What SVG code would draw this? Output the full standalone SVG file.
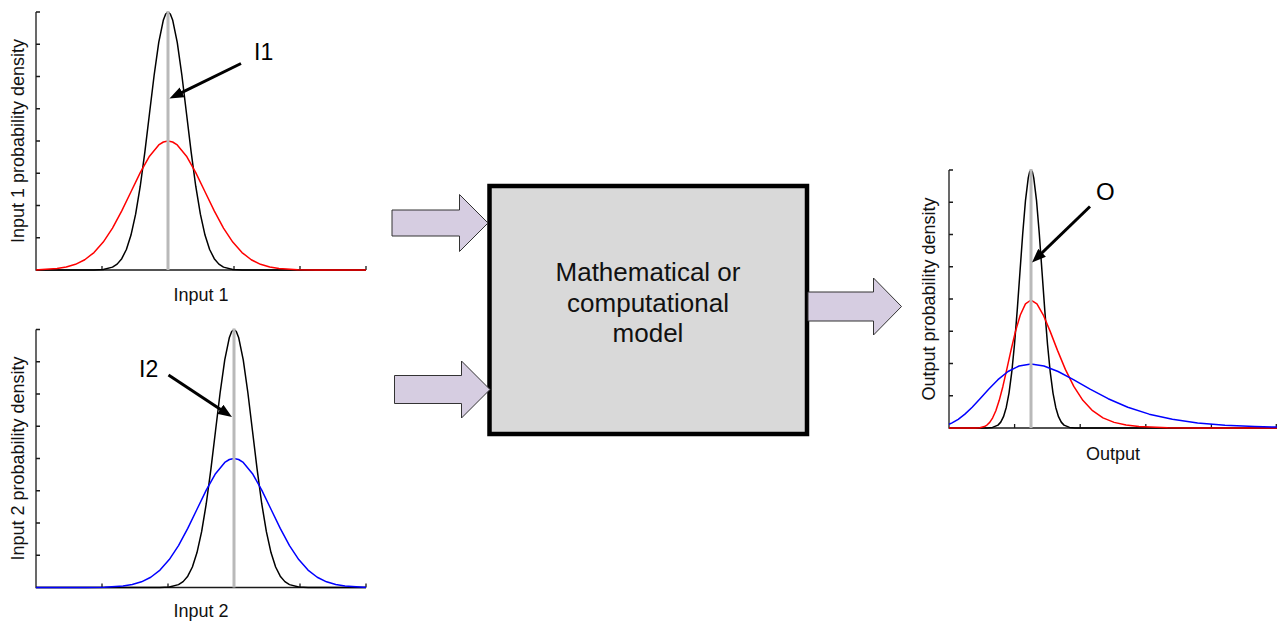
<svg xmlns="http://www.w3.org/2000/svg" width="1277" height="625" viewBox="0 0 1277 625">
<defs>
<style>
.ax{fill:none;stroke:#1a1a1a;stroke-width:1.3}
.cv{fill:none;stroke-width:1.5;stroke-linejoin:round}
.k{stroke:#000}
.r{stroke:#ff0000}
.b{stroke:#0000ff}
.mean{stroke:#b9b9b9;stroke-width:3}
.lbl{font-family:"Liberation Sans",Arial,Helvetica,sans-serif;font-size:18px;fill:#111}
.tag{font-family:"Liberation Sans",Arial,Helvetica,sans-serif;font-size:23px;fill:#000}
.boxtxt{font-family:"Liberation Sans",Arial,Helvetica,sans-serif;font-size:26px;fill:#111}
.ann{stroke:#000;stroke-width:3;fill:none}
.blk{fill:#d6cde1;stroke:#333;stroke-width:1}
</style>
<marker id="head" markerUnits="userSpaceOnUse" markerWidth="14" markerHeight="11" viewBox="0 0 14 11" refX="4" refY="5.5" orient="auto">
<path d="M0,0 L14,5.5 L0,11 z" fill="#000"/>
</marker>
</defs>
<rect width="1277" height="625" fill="#fff"/>

<!-- Input 1 plot -->
<g id="plot-input1">
<path class="ax" d="M36,12 V270 H366 M36,12 h4 M36,44.25 h4 M36,76.5 h4 M36,108.75 h4 M36,141 h4 M36,173.25 h4 M36,205.5 h4 M36,237.75 h4 M102,270 v-4 M168,270 v-4 M234,270 v-4 M300,270 v-4 M366,270 v-4"/>
<polyline class="cv k" points="36,270 94,270 103.25,269.43 112.5,267.13 117.13,264.12 121.75,258.66 126.38,249.47 131,235.08 135.63,214.2 140.25,186.24 144.88,151.88 149.5,113.52 154.13,75.25 158.75,42.31 163.38,19.94 165.69,14 168,12 170.31,14 172.63,19.94 177.25,42.31 181.88,75.25 186.5,113.52 191.13,151.88 195.75,186.24 200.38,214.2 205,235.08 209.63,249.47 214.25,258.66 218.88,264.12 223.5,267.13 232.75,269.43 242,270 366,270"/>
<polyline class="cv r" points="36,270 38.5,269.72 57,268.57 66.25,267.06 75.5,264.33 84.75,259.74 94,252.54 103.25,242.1 112.5,228.12 121.75,210.94 131,191.76 140.25,172.63 149.5,156.16 158.75,144.97 163.38,142 168,141 172.63,142 177.25,144.97 186.5,156.16 195.75,172.63 205,191.76 214.25,210.94 223.5,228.12 232.75,242.1 242,252.54 251.25,259.74 260.5,264.33 269.75,267.06 279,268.57 297.5,269.72 316,270 366,270"/>
<line class="mean" x1="168" y1="11" x2="168" y2="270"/>
<text class="lbl" x="201" y="300.5" text-anchor="middle">Input 1</text>
<text class="lbl" transform="translate(24,141) rotate(-90)" text-anchor="middle">Input 1 probability density</text>
</g>

<!-- Input 2 plot -->
<g id="plot-input2">
<path class="ax" transform="translate(0,317.5)" d="M36,12 V270 H366 M36,12 h4 M36,44.25 h4 M36,76.5 h4 M36,108.75 h4 M36,141 h4 M36,173.25 h4 M36,205.5 h4 M36,237.75 h4 M102,270 v-4 M168,270 v-4 M234,270 v-4 M300,270 v-4 M366,270 v-4"/>
<g transform="translate(66,317.5)">
<polyline class="cv k" points="-30,270 94,270 103.25,269.43 112.5,267.13 117.13,264.12 121.75,258.66 126.38,249.47 131,235.08 135.63,214.2 140.25,186.24 144.88,151.88 149.5,113.52 154.13,75.25 158.75,42.31 163.38,19.94 165.69,14 168,12 170.31,14 172.63,19.94 177.25,42.31 181.88,75.25 186.5,113.52 191.13,151.88 195.75,186.24 200.38,214.2 205,235.08 209.63,249.47 214.25,258.66 218.88,264.12 223.5,267.13 232.75,269.43 242,270 300,270"/>
<polyline class="cv b" points="-30,270 20,270 38.5,269.72 57,268.57 66.25,267.06 75.5,264.33 84.75,259.74 94,252.54 103.25,242.1 112.5,228.12 121.75,210.94 131,191.76 140.25,172.63 149.5,156.16 158.75,144.97 163.38,142 168,141 172.63,142 177.25,144.97 186.5,156.16 195.75,172.63 205,191.76 214.25,210.94 223.5,228.12 232.75,242.1 242,252.54 251.25,259.74 260.5,264.33 269.75,267.06 279,268.57 297.5,269.72 300,269.75"/>
<line class="mean" x1="168" y1="11" x2="168" y2="270"/>
</g>
<text class="lbl" x="201" y="617" text-anchor="middle">Input 2</text>
<text class="lbl" transform="translate(24,458.5) rotate(-90)" text-anchor="middle">Input 2 probability density</text>
</g>

<!-- Output plot -->
<g id="plot-output">
<path class="ax" d="M949,170 V428 H1277 M949,170 h4 M949,202.25 h4 M949,234.5 h4 M949,266.75 h4 M949,299 h4 M949,331.25 h4 M949,363.5 h4 M949,395.75 h4 M1014.6,428 v-4 M1080.2,428 v-4 M1145.8,428 v-4 M1211.4,428 v-4 M1276.3,428 v-4"/>
<polyline class="cv k" points="949,428 987,428 992.5,427.43 998,425.13 1000.75,422.12 1003.5,416.66 1006.25,407.47 1009,393.08 1011.75,372.2 1014.5,344.24 1017.25,309.88 1020,271.52 1022.75,233.25 1025.5,200.31 1028.25,177.94 1029.63,172 1031,170 1032.38,172 1033.75,177.94 1036.5,200.31 1039.25,233.25 1042,271.52 1044.75,309.88 1047.5,344.24 1050.25,372.2 1053,393.08 1055.75,407.47 1058.5,416.66 1061.25,422.12 1064,425.13 1069.5,427.43 1075,428 1277,428"/>
<polyline class="cv r" points="949,428 975.76,427.96 979.78,427.72 984.4,426.58 986.97,425.08 989.72,422.38 992.67,417.82 995.84,410.68 999.23,400.32 1002.88,386.44 1006.78,369.4 1010.97,350.36 1015.47,331.38 1020.29,315.04 1025.46,303.94 1031,300 1036.94,303.94 1043.33,315.04 1050.16,331.38 1057.5,350.36 1065.37,369.4 1073.8,386.44 1082.85,400.32 1092.56,410.68 1102.96,417.82 1114.13,422.38 1126.1,425.08 1138.94,426.58 1167.49,427.72 1200.32,427.96 1277,428"/>
<polyline class="cv b" points="949,424.26 952.07,422.91 958.22,419.34 964.91,414.16 972.16,407.22 980.05,398.7 988.62,389.18 997.94,379.69 1008.05,371.52 1019.06,365.97 1031,364 1043.98,365.97 1058.09,371.52 1073.41,379.69 1090.07,389.18 1108.16,398.7 1127.81,407.22 1149.17,414.16 1172.39,419.34 1197.61,422.91 1225,425.19 1254.77,426.54 1277,427.11"/>
<line class="mean" x1="1031" y1="169" x2="1031" y2="428"/>
<text class="lbl" x="1113" y="460" text-anchor="middle">Output</text>
<text class="lbl" transform="translate(935,299) rotate(-90)" text-anchor="middle">Output probability density</text>
</g>

<!-- Model box -->
<g id="model-box">
<rect x="489.5" y="186" width="317.5" height="248" fill="#d9d9d9" stroke="#000" stroke-width="4.5"/>
<text class="boxtxt" text-anchor="middle"><tspan x="648" y="280.5">Mathematical or</tspan><tspan x="648" y="311.5">computational</tspan><tspan x="648" y="342">model</tspan></text>
</g>

<!-- Connectors -->
<g id="connectors">
<polygon class="blk" points="392,210 459.5,210 459.5,194.5 488,223 459.5,251.5 459.5,236 392,236"/>
<polygon class="blk" points="394.5,375.5 461.5,375.5 461.5,361 490,389.5 461.5,418 461.5,403.5 394.5,403.5"/>
<polygon class="blk" points="808,292 873.5,292 873.5,278 901.5,306.5 873.5,335 873.5,321 808,321"/>
</g>

<!-- Annotations -->
<g id="annotation-I1">
<line class="ann" x1="241" y1="63.5" x2="178.48" y2="94.1" marker-end="url(#head)"/>
<text class="tag" x="254" y="60">I1</text>
</g>
<g id="annotation-I2">
<line class="ann" x1="168.5" y1="375" x2="223.66" y2="411.48" marker-end="url(#head)"/>
<text class="tag" x="139" y="377">I2</text>
</g>
<g id="annotation-O">
<line class="ann" x1="1090" y1="206.5" x2="1039.2" y2="255.55" marker-end="url(#head)"/>
<text class="tag" x="1096" y="200" style="font-size:24px">O</text>
</g>
</svg>
